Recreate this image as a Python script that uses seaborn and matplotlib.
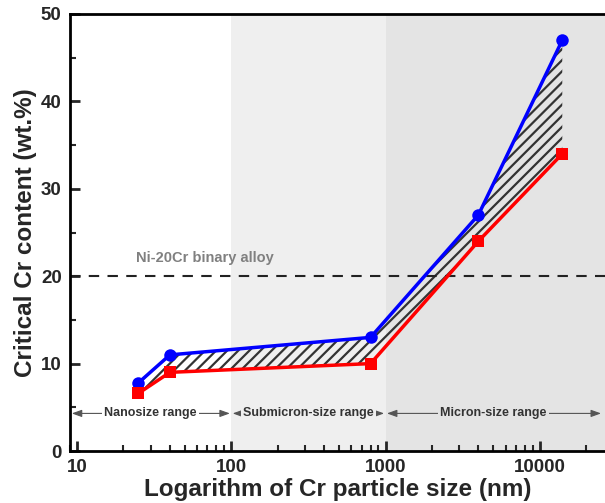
import matplotlib
matplotlib.use("Agg")
import matplotlib.pyplot as plt
import seaborn as sns
import numpy as np
import pandas as pd
from matplotlib.ticker import FixedLocator, LogLocator, NullFormatter, MultipleLocator

# ---- data ----
size_nm = [25, 40, 800, 4000, 14000]
upper_cr = [7.8, 11.0, 13.0, 27.0, 47.0]
lower_cr = [6.6, 9.0, 10.0, 24.0, 34.0]
x_ticks = [10, 100, 1000, 10000]
x_tick_labels = ["10", "100", "1000", "10000"]
y_ticks = [0, 10, 20, 30, 40, 50]
range_bounds = [9.0, 100, 1000, 26500]
range_labels = ["Nanosize range", "Submicron-size range", "Micron-size range"]
range_colors = ["#ffffff", "#efefef", "#e4e4e4"]
alloy_level = 20
alloy_label = "Ni-20Cr binary alloy"

sns.set_theme(style="white")
plt.rcParams['font.family'] = ['Liberation Sans', 'DejaVu Sans']
plt.rcParams['hatch.linewidth'] = 1.6
plt.rcParams['hatch.color'] = '#333333'

fig = plt.figure(figsize=(6.05, 5.03), dpi=100)
ax = fig.add_axes([70/605, (503-451)/503, 535/605, 437/503])
ax.set_xscale('log')

# background ranges
for i in range(3):
    ax.axvspan(range_bounds[i], range_bounds[i+1], color=range_colors[i], lw=0, zorder=0)

df = pd.DataFrame({"size": size_nm, "upper": upper_cr, "lower": lower_cr})

ax.fill_between(df["size"], df["lower"], df["upper"], facecolor='none',
                edgecolor='#333333', hatch='///', lw=0, zorder=1)

sns.lineplot(data=df, x="size", y="upper", ax=ax, color='#0000ff', lw=2.5,
             marker='o', markersize=9, markeredgewidth=0, zorder=3)
sns.lineplot(data=df, x="size", y="lower", ax=ax, color='#ff0000', lw=2.5,
             marker='s', markersize=8, markeredgewidth=0, zorder=3)

ax.axhline(alloy_level, color='#222222', lw=1.5, dashes=(5, 4), zorder=2)
ax.text(24, 22.1, alloy_label, color='#808080', fontsize=10.5, fontweight='bold',
        ha='left', va='center')

# range annotations
ry = 4.3
for i in range(3):
    x0, x1 = range_bounds[i], range_bounds[i+1]
    if i == 0:
        x0 = 9.05
    if i == 2:
        x1 = 25500
    ax.annotate('', xy=(x0, ry), xytext=(x1, ry),
                arrowprops=dict(arrowstyle='<|-|>,head_length=0.5,head_width=0.18',
                                color='#555555', lw=0.8, shrinkA=1, shrinkB=1), zorder=2)
    xm = np.sqrt(range_bounds[i]*range_bounds[i+1]) if i != 2 else 5000
    if i == 0:
        xm = 30
    ax.text(xm, ry, range_labels[i], fontsize=9, fontweight='bold', color='#333333',
            ha='center', va='center', zorder=3,
            bbox=dict(facecolor=range_colors[i], edgecolor='none', pad=1.5))

ax.set_xlim(range_bounds[0], range_bounds[-1])
ax.set_ylim(0, 50)
ax.xaxis.set_major_locator(FixedLocator(x_ticks))
ax.set_xticklabels(x_tick_labels)
ax.xaxis.set_minor_locator(LogLocator(base=10, subs=np.arange(2, 10)))
ax.xaxis.set_minor_formatter(NullFormatter())
ax.set_yticks(y_ticks)
ax.yaxis.set_minor_locator(MultipleLocator(5))

ax.tick_params(axis='both', which='major', direction='in', length=7, width=2,
               labelsize=13.5, pad=6, bottom=True, left=True)
ax.tick_params(axis='both', which='minor', direction='in', length=4, width=1.5,
               bottom=True, left=True)
for lab in ax.get_xticklabels() + ax.get_yticklabels():
    lab.set_fontweight('bold')

for s in ['left', 'bottom', 'top']:
    ax.spines[s].set_linewidth(2)
    ax.spines[s].set_color('black')
ax.spines['right'].set_visible(False)

ax.set_xlabel("Logarithm of Cr particle size (nm)", fontsize=17.5, fontweight='bold', labelpad=1)
ax.set_ylabel("Critical Cr content (wt.%)", fontsize=17.5, fontweight='bold', labelpad=3)

fig.savefig("out.png", dpi=100)
